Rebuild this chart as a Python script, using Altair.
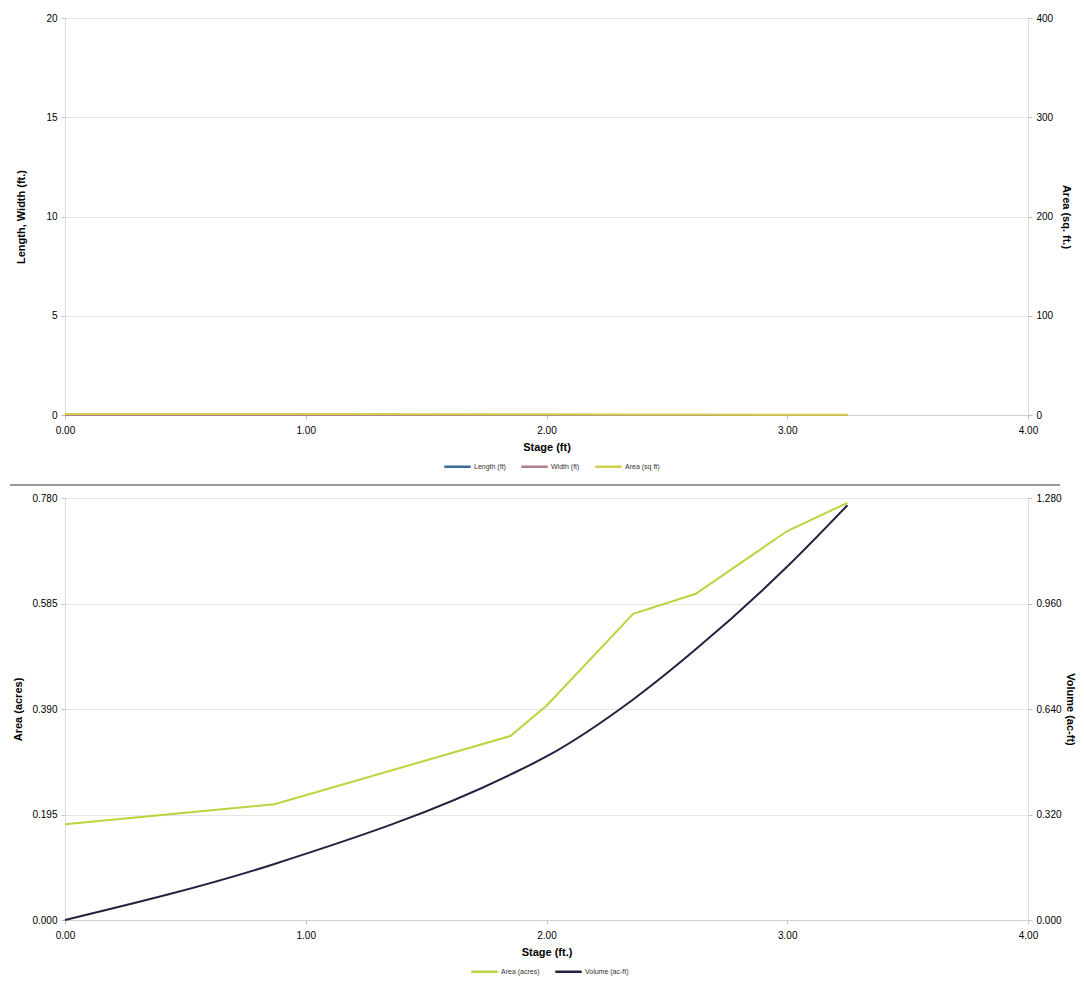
import altair as alt
import pandas as pd

# ---- data ----
stage = [0.00, 0.87, 1.85, 2.00, 2.36, 2.62, 3.00, 3.25]

# top panel (all values plot at the floor of the axes)
length_ft = [0.0, 0.0, 0.0, 0.0, 0.0, 0.0, 0.0, 0.0]
width_ft = [0.0, 0.0, 0.0, 0.0, 0.0, 0.0, 0.0, 0.0]
area_sqft = [1.0, 0.9, 0.8, 0.8, 0.6, 0.5, 0.3, 0.2]

# bottom panel
area_acres = [0.177, 0.214, 0.340, 0.396, 0.566, 0.603, 0.719, 0.771]
volume_acft = [0.000, 0.170, 0.441, 0.496, 0.669, 0.821, 1.072, 1.258]

x_ticks = [0, 1, 2, 3, 4]
top_left_ticks = [0, 5, 10, 15, 20]
top_right_ticks = [0, 100, 200, 300, 400]
bot_left_ticks = [0, 0.195, 0.39, 0.585, 0.78]
bot_right_ticks = [0, 0.32, 0.64, 0.96, 1.28]

TOP_NAMES = ["Length (ft)", "Width (ft)", "Area (sq ft)"]
TOP_COLORS = ["#3c6b98", "#b07d90", "#d2d04a"]
BOT_NAMES = ["Area (acres)", "Volume (ac-ft)"]
BOT_COLORS = ["#bfd23e", "#22243f"]

LABEL_COLOR = "#8a8a8a"
GRID_COLOR = "#e6e6e6"
FONT = "Liberation Sans"

df_lw = pd.DataFrame({
    "stage": stage * 2,
    "value": length_ft + width_ft,
    "series": [TOP_NAMES[0]] * len(stage) + [TOP_NAMES[1]] * len(stage),
})
df_asq = pd.DataFrame({"stage": stage, "value": area_sqft,
                       "series": [TOP_NAMES[2]] * len(stage)})
df_ac = pd.DataFrame({"stage": stage, "value": area_acres,
                      "series": [BOT_NAMES[0]] * len(stage)})
df_vol = pd.DataFrame({"stage": stage, "value": volume_acft,
                       "series": [BOT_NAMES[1]] * len(stage)})


def x_enc(title):
    return alt.X("stage:Q", scale=alt.Scale(domain=[0, 4], nice=False),
                 axis=alt.Axis(values=x_ticks, format=".2f", title=title,
                               grid=False, domain=True, domainColor="#d0d0d0",
                               tickColor="#c0c0c0", tickSize=4, labelPadding=6,
                               titlePadding=6, labelFlush=False))


def y_axis(title, ticks, fmt, orient, grid, title_pad):
    return alt.Axis(values=ticks, format=fmt, title=title, orient=orient,
                    grid=grid, gridColor=GRID_COLOR, domain=False,
                    tickColor="#c0c0c0", tickSize=4, labelPadding=4,
                    titlePadding=title_pad)


def legend(lx, ly):
    return alt.Legend(orient="none", legendX=lx, legendY=ly,
                      direction="horizontal", title=None,
                      symbolType="stroke", symbolStrokeWidth=2.5,
                      symbolSize=700, labelFontSize=7, labelColor="#333333",
                      labelFont=FONT, columnPadding=10, labelOffset=2)


top_color = alt.Color("series:N",
                      scale=alt.Scale(domain=TOP_NAMES, range=TOP_COLORS),
                      legend=legend(378, 434), sort=TOP_NAMES)
bot_color = alt.Color("series:N",
                      scale=alt.Scale(domain=BOT_NAMES, range=BOT_COLORS),
                      legend=legend(405, 459), sort=BOT_NAMES)

W = 963

top_left = alt.Chart(df_lw).mark_line(strokeWidth=2).encode(
    x=x_enc("Stage (ft)"),
    y=alt.Y("value:Q", scale=alt.Scale(domain=[0, 20], nice=False),
            axis=y_axis("Length, Width (ft.)", top_left_ticks, "d", "left", True, 19)),
    color=top_color,
)
top_right = alt.Chart(df_asq).mark_line(strokeWidth=2).encode(
    x=x_enc("Stage (ft)"),
    y=alt.Y("value:Q", scale=alt.Scale(domain=[0, 400], nice=False),
            axis=y_axis("Area (sq. ft.)", top_right_ticks, "d", "right", False, 8)),
    color=top_color,
)
top = alt.layer(top_left, top_right).resolve_scale(y="independent").properties(
    width=W, height=397)

bot_left = alt.Chart(df_ac).mark_line(strokeWidth=2).encode(
    x=x_enc("Stage (ft.)"),
    y=alt.Y("value:Q", scale=alt.Scale(domain=[0, 0.78], nice=False),
            axis=y_axis("Area (acres)", bot_left_ticks, ".3f", "left", True, 8)),
    color=bot_color,
)
bot_right = alt.Chart(df_vol).mark_line(strokeWidth=2, interpolate="monotone").encode(
    x=x_enc("Stage (ft.)"),
    y=alt.Y("value:Q", scale=alt.Scale(domain=[0, 1.28], nice=False),
            axis=y_axis("Volume (ac-ft)", bot_right_ticks, ".3f", "right", False, 3)),
    color=bot_color,
)
separator = alt.Chart(df_ac).mark_rule(color="#9a9a9a", strokeWidth=1.2, clip=False).encode(
    x=alt.value(-55), x2=alt.value(995), y=alt.value(-13))

bottom = alt.layer(bot_left, bot_right, separator).resolve_scale(
    y="independent").properties(width=W, height=422)

chart = alt.vconcat(top, bottom, spacing=10).resolve_scale(
    color="independent").resolve_legend(color="independent").properties(
    padding={"left": 0, "top": 4, "right": 0, "bottom": 0}
).configure_axis(
    labelFont=FONT, titleFont=FONT, labelFontSize=7, titleFontSize=7,
    labelColor=LABEL_COLOR, titleColor="#111", titleFontWeight="bold",
).configure_view(stroke=None).configure(background="white")

chart.save("out.html", embed_options={"renderer": "svg", "actions": False})
